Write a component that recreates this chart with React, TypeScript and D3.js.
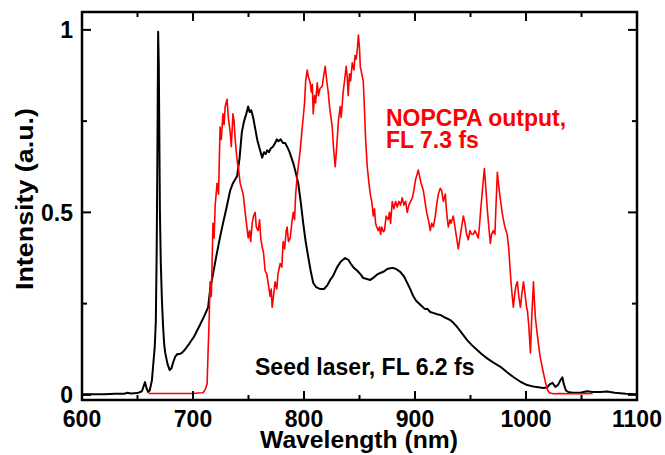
import React from "react";
import * as d3 from "d3";

const seedWl = [600,610,620,630,638,641,644,650,654,656.8,658,659.5,661,663,664,665.5,666.5,667.3,668,668.6,669.2,669.7,670.2,671,672,673,674,675,677,679,680.5,682,684,686,688,690,693,697,701,706,710,713.6,715.4,718,721,724.4,727,730,733.5,736,739.8,742,744,746,748,749.7,751,752.5,754.2,756,757.8,760,762.3,764,765.5,766.8,768.5,770,772,774,775.5,777,779,781,783,784.8,787,790.3,792.5,794.8,797,799.3,801.5,803.8,806,808.3,811,814.6,818,821,823.6,826,829.9,833,837,840,842,844.4,848,851,853.4,856,859.7,863,866,868.7,872,875,877.7,880,883,886.7,890,893,896,898.5,901,904.8,909,911,913.8,917,920,922.8,927,931.8,935,938,942,947,951,956,960,965,970,977,983,988.6,995,1001,1008,1015.7,1019,1021,1023.8,1026.5,1029,1031,1032.8,1034,1036,1038,1042,1049,1055,1060,1067,1073,1080,1090,1100];
const seedI = [0.002,0.002,0.002,0.003,0.003,0.006,0.004,0.005,0.01,0.035,0.02,0.008,0.012,0.04,0.077,0.13,0.2,0.4,0.7,0.995,0.9,0.7,0.5,0.36,0.26,0.19,0.14,0.115,0.085,0.068,0.072,0.088,0.105,0.112,0.112,0.115,0.125,0.142,0.16,0.19,0.215,0.24,0.288,0.33,0.38,0.433,0.47,0.51,0.56,0.58,0.6,0.65,0.72,0.75,0.77,0.79,0.775,0.78,0.76,0.73,0.7,0.675,0.65,0.665,0.66,0.67,0.665,0.675,0.68,0.69,0.7,0.695,0.7,0.69,0.69,0.68,0.665,0.635,0.61,0.58,0.53,0.47,0.42,0.378,0.34,0.307,0.295,0.29,0.29,0.3,0.315,0.325,0.35,0.365,0.375,0.37,0.36,0.35,0.34,0.33,0.32,0.318,0.315,0.322,0.33,0.334,0.338,0.345,0.347,0.348,0.345,0.337,0.325,0.307,0.288,0.27,0.258,0.247,0.235,0.236,0.227,0.224,0.221,0.219,0.212,0.205,0.196,0.186,0.17,0.15,0.137,0.123,0.112,0.1,0.09,0.077,0.062,0.049,0.036,0.027,0.022,0.019,0.02,0.028,0.033,0.022,0.028,0.04,0.048,0.03,0.012,0.008,0.006,0.006,0.01,0.008,0.008,0.009,0.006,0.003,0.002];

const opaWl = [660,670,680,690,700,705,709,711,712.7,713.6,714.5,715.4,716.5,718,719,720,721.7,723,724.4,725.5,727,728,729,730.7,731.8,733.5,734.5,736,737,738,739.8,741,742.5,745.2,747,749.7,751,752,753.3,754.5,756,757,758.7,760,761,762.3,763.5,765,766.5,768,769.5,770.5,771.3,772.5,774,775.5,776.5,778.5,780,781.2,782.5,784,784.8,786,787.6,789,790.3,791.5,792.5,793.9,795,796.6,798,799.3,800.5,801.5,802.9,804,805.6,806.5,807.5,808.3,809.5,810.5,811.9,813,814.5,816.4,817.5,819.1,820.5,821.8,823,825.4,826.5,828.1,829,829.9,831,832.6,833.5,835.3,836.5,838,839,839.8,841,842,843.5,845,846,847,848,849,850,850.7,852,853.4,854.5,855.5,857,858.5,859.7,861,862.4,863.5,864.5,865.5,866.9,868,869,870,871.4,872.5,874,875.9,877,878,879.5,881,882.5,884,885.5,887,888.5,890,891.5,893,894.5,896,897.6,899,900.5,901.5,903,904,905.5,907.5,909,910.5,912,913.8,915,916.5,918.3,919.5,921,922.8,924,925.5,927.3,928.5,930,931.5,932.5,934.5,936,937.5,939,940.5,942,943.6,945,946.5,948,949.5,951,952.6,954,955.5,957,958,959,960.7,962.5,963.5,965.2,966.5,967.9,969,970.6,972,973,974.2,975.5,977,978.5,979.6,981,983,984.5,986,987,988.6,990,991,992.2,993.5,995,996,997.7,999,1000.5,1001.3,1002.5,1004,1005,1006.7,1007.5,1008.5,1010,1011.2,1013,1015.7,1017.5,1019.3,1021,1024.7,1030,1040,1050,1060];
const opaI = [0.004,0.004,0.004,0.004,0.004,0.005,0.006,0.015,0.03,0.12,0.2,0.31,0.27,0.47,0.43,0.52,0.58,0.55,0.734,0.7,0.77,0.74,0.79,0.81,0.76,0.72,0.68,0.77,0.75,0.7,0.64,0.62,0.58,0.55,0.5,0.43,0.45,0.42,0.47,0.49,0.5,0.46,0.45,0.48,0.43,0.405,0.39,0.34,0.33,0.3,0.27,0.29,0.24,0.27,0.31,0.29,0.33,0.36,0.35,0.42,0.4,0.45,0.46,0.42,0.43,0.47,0.5,0.48,0.55,0.6,0.63,0.67,0.72,0.76,0.8,0.86,0.89,0.87,0.855,0.83,0.85,0.77,0.82,0.8,0.855,0.82,0.84,0.845,0.87,0.9,0.86,0.83,0.79,0.735,0.68,0.625,0.66,0.7,0.75,0.79,0.76,0.83,0.86,0.9,0.87,0.82,0.88,0.86,0.91,0.89,0.93,0.92,0.945,0.986,0.95,0.9,0.88,0.86,0.78,0.7,0.625,0.58,0.55,0.53,0.49,0.51,0.47,0.46,0.45,0.46,0.44,0.46,0.447,0.45,0.49,0.48,0.5,0.47,0.53,0.51,0.53,0.515,0.53,0.52,0.54,0.52,0.53,0.5,0.52,0.53,0.54,0.56,0.59,0.6,0.616,0.6,0.58,0.56,0.53,0.5,0.48,0.45,0.47,0.46,0.49,0.52,0.55,0.566,0.56,0.53,0.55,0.5,0.46,0.48,0.47,0.49,0.46,0.43,0.4,0.43,0.46,0.49,0.47,0.44,0.425,0.45,0.44,0.44,0.45,0.44,0.43,0.46,0.5,0.56,0.62,0.58,0.506,0.46,0.415,0.44,0.45,0.44,0.52,0.61,0.57,0.534,0.5,0.48,0.46,0.44,0.4,0.33,0.29,0.24,0.28,0.3,0.31,0.27,0.24,0.27,0.31,0.28,0.24,0.23,0.19,0.115,0.2,0.31,0.26,0.21,0.17,0.14,0.1,0.06,0.035,0.014,0.006,0.003,0.004,0.003,0.003,0.004];

const xTicks = [600, 700, 800, 900, 1000, 1100];
const xMinor = [650, 750, 850, 950, 1050];
const yTicks = [0, 0.5, 1];
const yTickLabels = ["0", "0.5", "1"];
const yMinor = [0.25, 0.75];

const FONT = "'Liberation Sans', Arial, Helvetica, sans-serif";

export default function App() {
  const L = 82, R = 637, T = 12, B = 400;
  const x = d3.scaleLinear().domain([600, 1100]).range([L, R]);
  const y = d3.scaleLinear().domain([-0.014, 1.049]).range([B, T]);
  const line = d3.line<[number, number]>().x((d) => x(d[0])).y((d) => y(d[1]));
  const seedPts = seedWl.map((w, i) => [w, seedI[i]] as [number, number]);
  const opaPts = opaWl.map((w, i) => [w, opaI[i]] as [number, number]);
  const maj = 9, mnr = 5;
  return (
    <svg width={665} height={455} style={{ position: "absolute", left: 0, top: 0, background: "#fff" }}>
      <rect x={0} y={0} width={665} height={455} fill="#fff" />
      <path d={line(seedPts) || ""} fill="none" stroke="#000" strokeWidth={2} strokeLinejoin="round" />
      <path d={line(opaPts) || ""} fill="none" stroke="#ff0000" strokeWidth={1.6} strokeLinejoin="round" />
      <rect x={L} y={T} width={R - L} height={B - T} fill="none" stroke="#000" strokeWidth={2.5} />
      {xTicks.map((t) => (
        <g key={"xt" + t}>
          <line x1={x(t)} x2={x(t)} y1={B} y2={B - maj} stroke="#000" strokeWidth={2} />
          <line x1={x(t)} x2={x(t)} y1={T} y2={T + maj} stroke="#000" strokeWidth={2} />
          <text x={x(t)} y={427} textAnchor="middle" fontFamily={FONT} fontWeight="bold" fontSize={23}>{t}</text>
        </g>
      ))}
      {xMinor.map((t) => (
        <g key={"xm" + t}>
          <line x1={x(t)} x2={x(t)} y1={B} y2={B - mnr} stroke="#000" strokeWidth={2} />
          <line x1={x(t)} x2={x(t)} y1={T} y2={T + mnr} stroke="#000" strokeWidth={2} />
        </g>
      ))}
      {yTicks.map((t, i) => (
        <g key={"yt" + t}>
          <line x1={L} x2={L + maj} y1={y(t)} y2={y(t)} stroke="#000" strokeWidth={2} />
          <line x1={R} x2={R - maj} y1={y(t)} y2={y(t)} stroke="#000" strokeWidth={2} />
          <text x={73} y={y(t) + 8.5} textAnchor="end" fontFamily={FONT} fontWeight="bold" fontSize={23}>{yTickLabels[i]}</text>
        </g>
      ))}
      {yMinor.map((t) => (
        <g key={"ym" + t}>
          <line x1={L} x2={L + mnr} y1={y(t)} y2={y(t)} stroke="#000" strokeWidth={2} />
          <line x1={R} x2={R - mnr} y1={y(t)} y2={y(t)} stroke="#000" strokeWidth={2} />
        </g>
      ))}
      <text x={359} y={448} textAnchor="middle" fontFamily={FONT} fontWeight="bold" fontSize={23} textLength={198} lengthAdjust="spacingAndGlyphs">Wavelength (nm)</text>
      <text transform="translate(33,199) rotate(-90)" textAnchor="middle" fontFamily={FONT} fontWeight="bold" fontSize={23} textLength={182} lengthAdjust="spacingAndGlyphs">Intensity (a.u.)</text>
      <text x={386} y={126} fill="#ff0000" fontFamily={FONT} fontWeight="bold" fontSize={23}>NOPCPA output,</text>
      <text x={386} y={148} fill="#ff0000" fontFamily={FONT} fontWeight="bold" fontSize={23}>FL 7.3 fs</text>
      <text x={255} y={375} fill="#000" fontFamily={FONT} fontWeight="bold" fontSize={23}>Seed laser, FL 6.2 fs</text>
    </svg>
  );
}
